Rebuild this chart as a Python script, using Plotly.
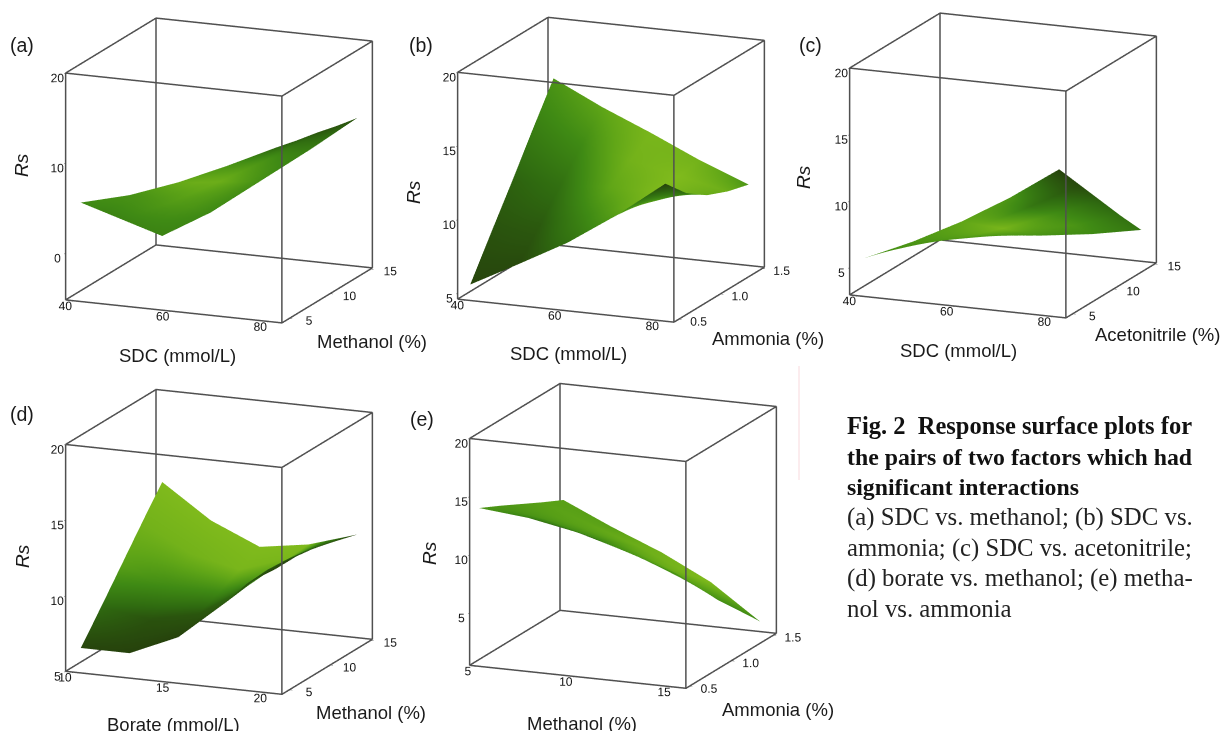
import plotly.graph_objects as go

W, H = 1221, 731
FONT = "Liberation Sans"

x_sdc = [40, 50, 60, 70, 80]
x_borate = [10, 12.5, 15, 17.5, 18.5, 20]
x_methanol = [5, 7.5, 10, 12.5, 15]
y_methanol = [5, 7.5, 10, 12.5, 15]
y_ammonia = [0.5, 0.75, 1.0, 1.25, 1.5]
y_acetonitrile = [5, 7.5, 10, 12.5, 15]

z_a = [[5.2, 6.6, 8.6, 11.0, 13.6],
       [2.9, 4.8, 7.2, 10.0, 13.0],
       [0.6, 3.0, 5.9, 9.0, 12.5],
       [-1.7, 1.1, 4.5, 8.1, 11.9],
       [-4.0, -0.8, 3.2, 7.2, 11.4]]
z_b = [[5.45, 7.2, 9.0, 11.2, 13.7],
       [8.1, 9.0, 10.0, 11.0, 12.2],
       [10.7, 10.9, 11.0, 11.1, 11.2],
       [13.4, 12.7, 12.0, 11.3, 10.6],
       [16.0, 14.4, 13.0, 11.5, 10.2]]
z_c = [[5.46, 7.1, 9.0, 11.2, 13.7],
       [5.0, 6.2, 7.8, 9.6, 11.6],
       [4.6, 5.4, 6.6, 8.0, 9.5],
       [4.1, 4.6, 5.4, 6.3, 7.4],
       [3.7, 3.8, 4.2, 4.7, 5.4]]
z_d = [[6.3, 6.3, 7.7, 10.4, 11.7, 12.9],
       [8.2, 7.7, 8.4, 10.6, 11.8, 12.9],
       [10.15, 9.0, 9.05, 10.7, 11.7, 12.7],
       [12.1, 10.4, 9.7, 10.8, 11.5, 12.3],
       [14.0, 11.8, 10.4, 10.9, 11.3, 11.9]]
z_e = [[13.9, 13.5, 12.7, 11.5, 10.1],
       [13.0, 12.2, 11.0, 9.6, 7.9],
       [12.05, 10.9, 9.6, 7.9, 5.6],
       [11.1, 9.6, 8.1, 6.2, 3.6],
       [10.2, 8.3, 6.6, 4.5, 1.57]]

shade_a = [[.5, .55, .8, .6, .2], [.45, .6, .85, .55, .15], [.45, .65, .85, .55, .12],
           [.45, .6, .7, .45, .1], [.45, .5, .55, .4, .1]]
shade_b = [[.02, .05, .3, .65, 0], [.1, .15, .5, .9, .3], [.2, .3, .75, 1, .8],
           [.4, .5, .9, 1, .85], [.6, .75, .95, .9, .6]]
shade_c = [[.55, .6, .75, .6, 0], [.55, .6, .85, .35, .05], [.55, .6, .95, .55, .2],
           [.5, .6, .7, .6, .3], [.5, .6, .55, .5, .35]]
shade_d = [[.02, 0, 0, .1, .1, 0], [.25, .1, .12, .3, .15, 0], [.7, .5, .5, .7, .2, 0],
           [.9, .9, .95, .95, .3, 0], [1, 1, 1, 1, .4, 0]]
shade_e = [[.6, .35, .1, .5, .6], [.6, .6, .5, .6, .6], [.65, .7, .7, .85, .55],
           [.7, .75, .85, .95, .5], [.7, .7, .9, 1, .5]]

GREENS = [[0, "#26420c"], [.25, "#2f6a10"], [.5, "#3f8a14"], [.75, "#5fa517"], [1, "#7fba1c"]]

panels = [
    dict(name="scene", x=x_sdc, y=y_methanol, z=z_a, c=shade_a,
         xr=[38.4, 82.8], yr=[4.07, 15.2], zr=[-5.2, 20],
         xt=[40, 60, 80], yt=[5, 10, 15], zt=[0, 10, 20],
         cx=219.25, cy=170.5, dom=(24, 414, 0, 362)),
    dict(name="scene2", x=x_sdc, y=y_ammonia, z=z_b, c=shade_b,
         xr=[38.4, 82.8], yr=[0.44, 1.527], zr=[4.6, 20],
         xt=[40, 60, 80], yt=[0.5, 1.0, 1.5], zt=[5, 10, 15, 20],
         cx=611.25, cy=169.75, dom=(416, 806, 0, 362)),
    dict(name="scene3", x=x_sdc, y=y_acetonitrile, z=z_c, c=shade_c,
         xr=[38.4, 82.8], yr=[4.17, 15.2], zr=[2.95, 20],
         xt=[40, 60, 80], yt=[5, 10, 15], zt=[5, 10, 15, 20],
         cx=1003, cy=165.5, dom=(808, 1198, 0, 362)),
    dict(name="scene4", x=x_borate, y=y_methanol, z=z_d, c=shade_d,
         xr=[9.6, 20.7], yr=[4.07, 15.2], zr=[5, 20],
         xt=[10, 15, 20], yt=[5, 10, 15], zt=[5, 10, 15, 20],
         cx=219, cy=541.9, dom=(24, 414, 369, 731)),
    dict(name="scene5", x=x_methanol, y=y_ammonia, z=z_e, c=shade_e,
         xr=[4.67, 15.7], yr=[0.46, 1.536], zr=[0.5, 20],
         xt=[5, 10, 15], yt=[0.5, 1.0, 1.5], zt=[5, 10, 15, 20],
         cx=623.5, cy=535.9, dom=(428, 818, 369, 731)),
]

panel_labels = [("(a)", 22, 45), ("(b)", 421, 45), ("(c)", 810, 45), ("(d)", 22, 414), ("(e)", 422, 419)]
z_titles = [(21, 165), (413, 192), (803, 177), (22, 556), (429, 553)]
x_titles = [("SDC (mmol/L)", 177, 355), ("SDC (mmol/L)", 568, 353), ("SDC (mmol/L)", 958, 350),
            ("Borate (mmol/L)", 173, 724), ("Methanol (%)", 582, 723)]
y_titles = [("Methanol (%)", 372, 341), ("Ammonia (%)", 768, 338), ("Acetonitrile (%)", 1157, 335),
            ("Methanol (%)", 371, 712), ("Ammonia (%)", 778, 709)]
caption_bold = ["Fig. 2  Response surface plots for", "the pairs of two factors which had", "significant interactions"]
caption_text = ["(a) SDC vs. methanol; (b) SDC vs.", "ammonia; (c) SDC vs. acetonitrile;",
                "(d) borate vs. methanol; (e) metha-", "nol vs. ammonia"]

EYE = (0.373, -0.892, 0.254)
EYE_LEN = 2.2
ASPECT = 1.297
VPX = 175.0

fig = go.Figure()
layout = {}
for p in panels:
    l, r, t, b = p["dom"]
    sid = p["name"]
    fig.add_trace(go.Surface(x=p["x"], y=p["y"], z=p["z"], surfacecolor=p["c"], cmin=0, cmax=1,
                             colorscale=GREENS, showscale=False, scene=sid, hoverinfo="skip",
                             lighting=dict(ambient=1, diffuse=0, specular=0, roughness=1, fresnel=0)))
    e = 0.0005
    def ins(rng):
        d = (rng[1] - rng[0]) * e
        return rng[0] + d, rng[1] - d
    x0, x1 = ins(p["xr"]); y0, y1 = ins(p["yr"]); z0, z1 = ins(p["zr"])
    bx = [x0, x1, x1, x0, x0, None, x0, x1, x1, x0, x0, None, x0, x0, None, x1, x1, None, x1, x1, None, x0, x0]
    by = [y0, y0, y1, y1, y0, None, y0, y0, y1, y1, y0, None, y0, y0, None, y0, y0, None, y1, y1, None, y1, y1]
    bz = [z0, z0, z0, z0, z0, None, z1, z1, z1, z1, z1, None, z0, z1, None, z0, z1, None, z0, z1, None, z0, z1]
    fig.add_trace(go.Scatter3d(x=bx, y=by, z=bz, mode="lines", line=dict(color="#505050", width=3),
                               scene=sid, hoverinfo="skip", showlegend=False))
    def ax(rng, vals):
        return dict(range=rng, tickvals=vals, ticktext=[f"{v}" for v in vals], title=dict(text=""),
                    showgrid=False, zeroline=False, showbackground=False, showline=False,
                    ticks="outside", ticklen=3, tickcolor="#333", showspikes=False, tickangle=0,
                    tickfont=dict(family=FONT, size=12, color="#1a1a1a"))
    dcy = (t + b) / 2 - p["cy"]
    cz = -dcy / VPX
    layout[sid] = dict(
        domain=dict(x=[l / W, r / W], y=[1 - b / H, 1 - t / H]),
        xaxis=ax(p["xr"], p["xt"]), yaxis=ax(p["yr"], p["yt"]), zaxis=ax(p["zr"], p["zt"]),
        aspectmode="manual", aspectratio=dict(x=ASPECT, y=ASPECT, z=ASPECT), bgcolor="rgba(0,0,0,0)",
        camera=dict(projection=dict(type="orthographic"),
                    up=dict(x=0, y=0, z=1),
                    center=dict(x=0, y=0, z=cz),
                    eye=dict(x=EYE[0] * EYE_LEN, y=EYE[1] * EYE_LEN, z=EYE[2] * EYE_LEN + cz)))

ann = []
def text(s, px, py, size=18.5, family=FONT, angle=0, anchor="center", color="#1a1a1a"):
    ann.append(dict(text=s, x=px / W, y=1 - py / H, xref="paper", yref="paper", showarrow=False,
                    xanchor=anchor, yanchor="middle", textangle=angle,
                    font=dict(family=family, size=size, color=color)))
for s, px, py in panel_labels:
    text(s, px, py, 19.5)
for px, py in z_titles:
    text("<i>Rs</i>", px, py, 19, angle=-90)
for s, px, py in x_titles + y_titles:
    text(s, px, py)
for (s, size, py) in zip(caption_bold, [24.5, 23.8, 23.8], [425, 457, 487]):
    text(f"<b>{s}</b>", 845, py, size, "Liberation Serif", anchor="left", color="#111")
for (s, size, py) in zip(caption_text, [24.8, 24.7, 24.8, 24.8], [517, 548, 578, 608]):
    text(s, 845, py, size, "Liberation Serif", anchor="left", color="#222")

fig.update_layout(width=W, height=H, margin=dict(l=0, r=0, t=0, b=0), autosize=False,
                  paper_bgcolor="white", showlegend=False, annotations=ann,
                  shapes=[dict(type="line", xref="paper", yref="paper", x0=799 / W, x1=799 / W,
                               y0=1 - 366 / H, y1=1 - 480 / H, line=dict(color="#f8d9dd", width=1))],
                  **layout)
fig.write_html("out.html", config={"displayModeBar": False},
               post_script="document.body.style.margin='0';document.body.style.overflow='hidden';")
